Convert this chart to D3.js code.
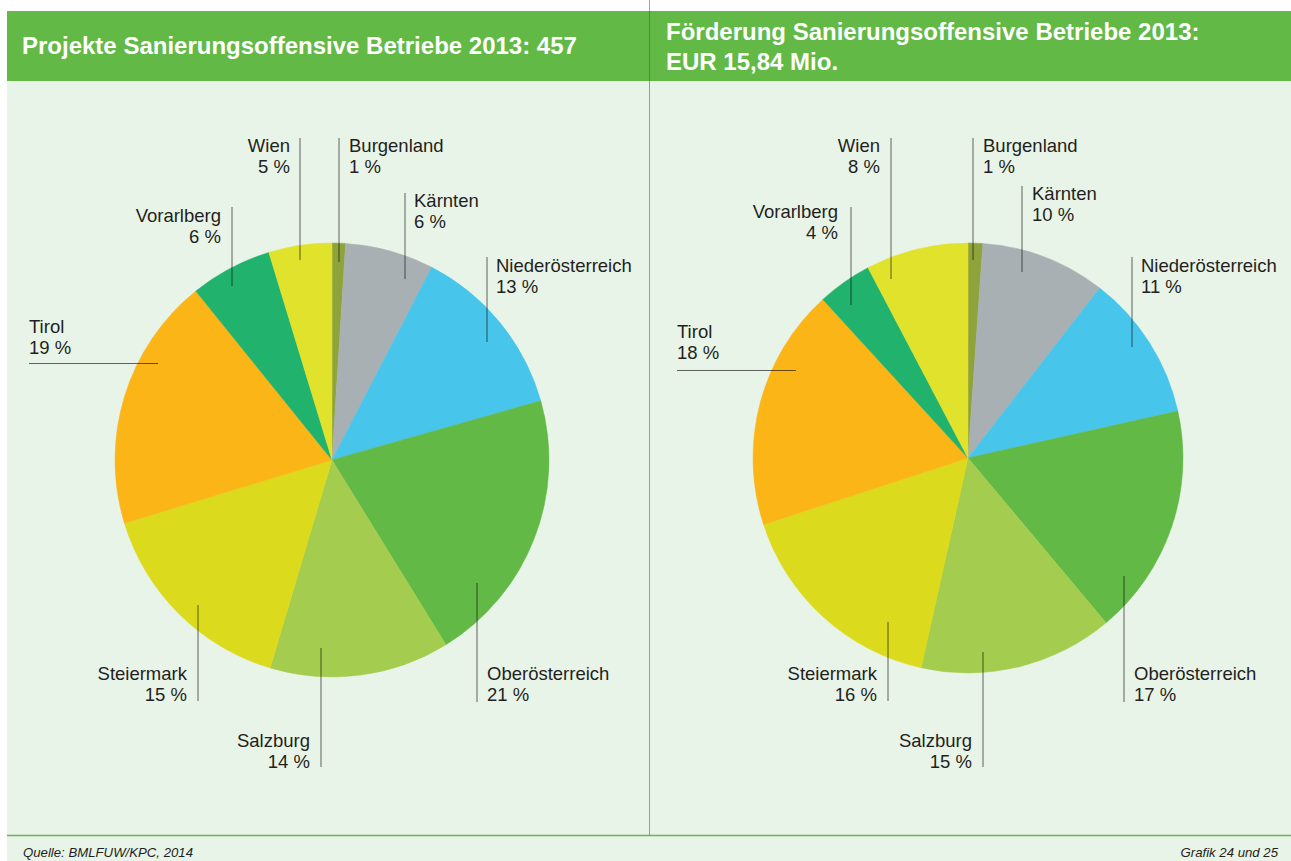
<!DOCTYPE html>
<html lang="de">
<head>
<meta charset="utf-8">
<title>Sanierungsoffensive Betriebe 2013</title>
<script src="https://cdn.jsdelivr.net/npm/d3@7"></script>
<style>
  body { margin: 0; background: #fff; }
  svg { display: block; font-family: "Liberation Sans", Arial, sans-serif; }
  .titel { fill: #fff; font-weight: bold; font-size: 24px; }
  .label { fill: #231f20; font-size: 18.5px; }
  .fuss { fill: #231f20; font-size: 13.2px; font-style: italic; }
  .leader { stroke: rgba(0,0,0,0.6); stroke-width: 1; }
</style>
</head>
<body>
<svg width="1291" height="861"></svg>
<script>
// Bundeslaender, im Uhrzeigersinn ab 12 Uhr
const regionen = ["Burgenland", "Kärnten", "Niederösterreich", "Oberösterreich",
  "Salzburg", "Steiermark", "Tirol", "Vorarlberg", "Wien"];

const projekteAnteil = [1.0, 6.6, 13.0, 20.6, 13.4, 15.7, 18.9, 6.1, 4.7];
const projekteText = ["1 %", "6 %", "13 %", "21 %", "14 %", "15 %", "19 %", "6 %", "5 %"];

const foerderAnteil = [1.1, 9.4, 11.0, 17.4, 14.6, 16.5, 18.2, 4.1, 7.7];
const foerderText = ["1 %", "10 %", "11 %", "17 %", "15 %", "16 %", "18 %", "4 %", "8 %"];

const farben = ["#8fa33b", "#a9b0b4", "#48c5ea", "#62b946", "#a4cc4e",
  "#dcda1d", "#fbb516", "#21b36d", "#e1e22b"];

// Beschriftungen: Linie (x1,y1)-(x2,y2), Text bei (tx,ty)
const layoutLinks = [
  {x1: 339, y1: 138, x2: 339, y2: 262, tx: 349, ty: 152, a: "start"},
  {x1: 405, y1: 193, x2: 405, y2: 279, tx: 414, ty: 207, a: "start"},
  {x1: 487, y1: 257, x2: 487, y2: 342, tx: 496, ty: 272, a: "start"},
  {x1: 477, y1: 583, x2: 477, y2: 702, tx: 487, ty: 680, a: "start"},
  {x1: 321, y1: 648, x2: 321, y2: 767, tx: 310, ty: 747, a: "end"},
  {x1: 198, y1: 605, x2: 198, y2: 701, tx: 187, ty: 680, a: "end"},
  {x1: 29, y1: 363.5, x2: 158, y2: 363.5, tx: 29, ty: 333, a: "start"},
  {x1: 232, y1: 207, x2: 232, y2: 286, tx: 221, ty: 222, a: "end"},
  {x1: 300, y1: 138, x2: 300, y2: 260, tx: 290, ty: 152, a: "end"}
];
const layoutRechts = [
  {x1: 973, y1: 138, x2: 973, y2: 260, tx: 983, ty: 152, a: "start"},
  {x1: 1022, y1: 186, x2: 1022, y2: 272, tx: 1032, ty: 200, a: "start"},
  {x1: 1132, y1: 257, x2: 1132, y2: 347, tx: 1141, ty: 272, a: "start"},
  {x1: 1124, y1: 576, x2: 1124, y2: 702, tx: 1134, ty: 680, a: "start"},
  {x1: 983, y1: 652, x2: 983, y2: 767, tx: 972, ty: 747, a: "end"},
  {x1: 888, y1: 622, x2: 888, y2: 701, tx: 877, ty: 680, a: "end"},
  {x1: 677, y1: 370.5, x2: 796, y2: 370.5, tx: 677, ty: 338, a: "start"},
  {x1: 851, y1: 207, x2: 851, y2: 305, tx: 838, ty: 218, a: "end"},
  {x1: 891, y1: 138, x2: 891, y2: 279, tx: 880, ty: 152, a: "end"}
];

var svg = d3.select("svg");

/// Hintergrund
svg.append("rect").attr("x", 7).attr("y", 81).attr("width", 1284).attr("height", 780)
  .attr("fill", "#e9f4e8");
svg.append("rect").attr("x", 7).attr("y", 11).attr("width", 1284).attr("height", 70)
  .attr("fill", "#62b946");
svg.append("line").attr("x1", 7).attr("x2", 1291).attr("y1", 835.5).attr("y2", 835.5)
  .attr("stroke", "#6ab553").attr("stroke-width", 1.3);
svg.append("line").attr("x1", 649.5).attr("x2", 649.5).attr("y1", 0).attr("y2", 835)
  .attr("stroke", "rgba(60,100,60,0.55)").attr("stroke-width", 1);

/// Titel
svg.append("text").classed("titel", true).attr("x", 22).attr("y", 54)
  .text("Projekte Sanierungsoffensive Betriebe 2013: 457");
var t2 = svg.append("text").classed("titel", true).attr("x", 666).attr("y", 40);
t2.append("tspan").attr("x", 666).text("Förderung Sanierungsoffensive Betriebe 2013:");
t2.append("tspan").attr("x", 666).attr("dy", 30).text("EUR 15,84 Mio.");

/// Fusszeile
svg.append("text").classed("fuss", true).attr("x", 23).attr("y", 857)
  .text("Quelle: BMLFUW/KPC, 2014");
svg.append("text").classed("fuss", true).attr("x", 1278).attr("y", 857)
  .attr("text-anchor", "end").text("Grafik 24 und 25");

function zeichneTorte(cx, cy, radius, anteile, texte, layout) {
  var daten = regionen.map(function (r, i) {
    return {region: r, wert: anteile[i], text: texte[i], pos: layout[i]};
  });
  var arcs = d3.pie().value(function (d) { return d.wert; }).sort(null)(daten);
  var arc = d3.arc().innerRadius(0).outerRadius(radius);

  var g = svg.append("g").attr("transform", "translate(" + cx + "," + cy + ")");
  g.selectAll("path")
    .data(arcs)
    .enter()
    .append("path")
      .attr("d", arc)
      .attr("fill", function (d, i) { return farben[i]; })
      .attr("stroke", function (d, i) { return farben[i]; })
      .attr("stroke-width", 0.5);

  var lab = svg.append("g").selectAll("g")
    .data(daten)
    .enter()
    .append("g");

  lab.append("line").classed("leader", true)
    .attr("x1", function (d) { return d.pos.x1; })
    .attr("y1", function (d) { return d.pos.y1; })
    .attr("x2", function (d) { return d.pos.x2; })
    .attr("y2", function (d) { return d.pos.y2; });

  var txt = lab.append("text").classed("label", true)
    .attr("text-anchor", function (d) { return d.pos.a; })
    .attr("y", function (d) { return d.pos.ty; });
  txt.append("tspan")
    .attr("x", function (d) { return d.pos.tx; })
    .text(function (d) { return d.region; });
  txt.append("tspan")
    .attr("x", function (d) { return d.pos.tx; })
    .attr("dy", 21)
    .text(function (d) { return d.text; });
}

zeichneTorte(332, 460, 217, projekteAnteil, projekteText, layoutLinks);
zeichneTorte(968, 458, 215, foerderAnteil, foerderText, layoutRechts);
</script>
</body>
</html>
